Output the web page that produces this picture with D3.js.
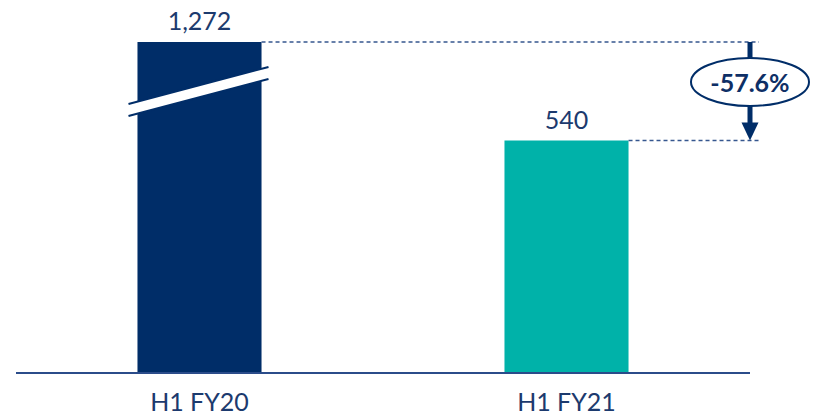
<!DOCTYPE html>
<meta charset="utf-8">
<style>
body { margin: 0; background: #fff; }
text { font-family: Lato, "Open Sans", sans-serif; fill: #1c3a6e; }
</style>
<body>
<div id="chart"></div>
<script src="https://d3js.org/d3.v7.min.js"></script>
<script>
// data
var categories = ["H1 FY20", "H1 FY21"];
var values = [1272, 540];
var valueLabels = ["1,272", "540"];
var barColors = ["#002D68", "#00B2A9"];
var changeLabel = "-57.6%";

var width = 817, height = 416;
var baseY = 373;

var svg = d3.select("#chart").append("svg")
    .attr("width", width)
    .attr("height", height);

var x = d3.scaleBand()
    .domain(categories)
    .range([16, 750])
    .paddingInner(0.662)
    .paddingOuter(0.331);

// broken axis: 540 shown to scale, 1,272 compressed above the break
var y = d3.scaleLinear()
    .domain([0, 540, 1272])
    .range([baseY, 140.5, 42]);

// bars
svg.selectAll("rect.bar")
    .data(values)
  .enter().append("rect")
    .attr("class", "bar")
    .attr("x", function(d, i) { return x(categories[i]); })
    .attr("y", function(d) { return y(d); })
    .attr("width", x.bandwidth())
    .attr("height", function(d) { return baseY - y(d); })
    .attr("fill", function(d, i) { return barColors[i]; });

// break on first bar
var bx0 = x(categories[0]) - 9, bx1 = x(categories[0]) + x.bandwidth() + 7;
var brk = svg.append("g");
brk.append("polygon")
    .attr("points", [[bx0, 104], [bx1, 67], [bx1, 79], [bx0, 116]].join(" "))
    .attr("fill", "#fff");
[[104, 67], [116, 79]].forEach(function(p) {
  brk.append("line")
      .attr("x1", bx0).attr("y1", p[0])
      .attr("x2", bx1).attr("y2", p[1])
      .attr("stroke", "#002D68")
      .attr("stroke-width", 2);
});

// value labels
svg.selectAll("text.val")
    .data(values)
  .enter().append("text")
    .attr("class", "val")
    .attr("x", function(d, i) { return x(categories[i]) + x.bandwidth() / 2; })
    .attr("y", function(d) { return y(d) - 12; })
    .attr("text-anchor", "middle")
    .attr("font-size", 25)
    .text(function(d, i) { return valueLabels[i]; });

// axis line
svg.append("line")
    .attr("x1", 16).attr("x2", 750)
    .attr("y1", baseY).attr("y2", baseY)
    .attr("stroke", "#2B4C8A")
    .attr("stroke-width", 2.2);

// category labels
svg.selectAll("text.cat")
    .data(categories)
  .enter().append("text")
    .attr("class", "cat")
    .attr("x", function(d) { return x(d) + x.bandwidth() / 2; })
    .attr("y", 411)
    .attr("text-anchor", "middle")
    .attr("font-size", 25)
    .text(function(d) { return d; });

// dashed guides
svg.selectAll("line.guide")
    .data(values)
  .enter().append("line")
    .attr("class", "guide")
    .attr("x1", function(d, i) { return x(categories[i]) + x.bandwidth(); })
    .attr("x2", 759)
    .attr("y1", function(d) { return y(d); })
    .attr("y2", function(d) { return y(d); })
    .attr("stroke", "#36578F")
    .attr("stroke-width", 1.3)
    .attr("stroke-dasharray", "4,3");

// arrow
var ax = 750, ay0 = y(values[0]), ay1 = y(values[1]);
svg.append("line")
    .attr("x1", ax).attr("x2", ax)
    .attr("y1", ay0).attr("y2", ay1 - 16)
    .attr("stroke", "#002D68")
    .attr("stroke-width", 5);
svg.append("polygon")
    .attr("points", [[ax - 8.5, ay1 - 18], [ax + 8.5, ay1 - 18], [ax, ay1]].join(" "))
    .attr("fill", "#002D68");

// change bubble
svg.append("ellipse")
    .attr("cx", ax).attr("cy", 82)
    .attr("rx", 59).attr("ry", 24)
    .attr("fill", "#fff")
    .attr("stroke", "#002D68")
    .attr("stroke-width", 2);
svg.append("text")
    .attr("x", ax).attr("y", 91.5)
    .attr("text-anchor", "middle")
    .attr("font-size", 25)
    .attr("font-weight", "bold")
    .style("fill", "#0E2F66")
    .text(changeLabel);
</script>
</body>
